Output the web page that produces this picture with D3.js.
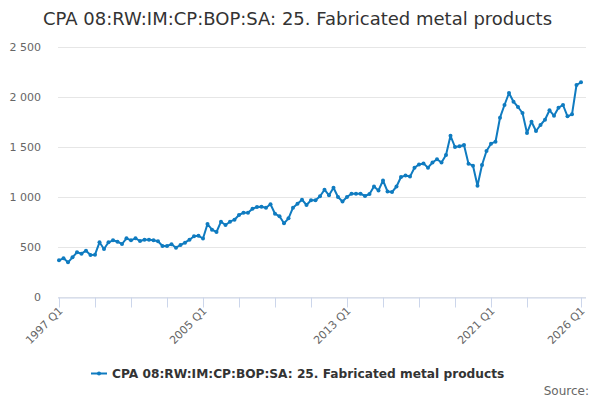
<!DOCTYPE html>
<html>
<head>
<meta charset="utf-8">
<script src="https://cdn.jsdelivr.net/npm/d3@7/dist/d3.min.js"></script>
<style>
  html, body { margin: 0; padding: 0; background: #ffffff; }
  svg { display: block; font-family: "DejaVu Sans", sans-serif; }
</style>
</head>
<body>
<svg id="chart" width="600" height="400"></svg>
<script>
const title = "CPA 08:RW:IM:CP:BOP:SA: 25. Fabricated metal products";
const seriesName = "CPA 08:RW:IM:CP:BOP:SA: 25. Fabricated metal products";

const categories = [];
for (let y = 1997; y <= 2026; y++) {
  for (let q = 1; q <= 4; q++) {
    if (y === 2026 && q > 1) break;
    categories.push(y + " Q" + q);
  }
}

const values = [
  367, 387, 347, 397, 447, 433, 463, 420, 423, 547,
  480, 547, 567, 553, 530, 587, 567, 587, 560, 573,
  573, 567, 557, 510, 510, 527, 493, 520, 543, 573,
  607, 612, 585, 730, 673, 650, 753, 720, 753, 773,
  820, 843, 843, 883, 900, 903, 893, 927, 833, 807,
  737, 787, 893, 933, 973, 920, 967, 967, 1007, 1073,
  1017, 1093, 1000, 955, 1000, 1033, 1033, 1033, 1010, 1030,
  1105, 1066, 1165, 1056, 1049, 1105, 1200, 1214, 1204, 1293,
  1326, 1336, 1293, 1345, 1378, 1345, 1421, 1612, 1500, 1507,
  1520, 1333, 1313, 1113, 1320, 1460, 1533, 1553, 1793, 1920,
  2040, 1953, 1900, 1840, 1640, 1753, 1660, 1720, 1773, 1867,
  1813, 1893, 1920, 1807, 1827, 2120, 2147
];

const yTicks = [0, 500, 1000, 1500, 2000, 2500];
const xTickCats = ["1997 Q1","1999 Q1","2001 Q1","2003 Q1","2005 Q1","2007 Q1","2009 Q1","2011 Q1","2013 Q1","2015 Q1","2017 Q1","2019 Q1","2021 Q1","2023 Q1","2026 Q1"];
const xLabelCats = ["1997 Q1", "2005 Q1", "2013 Q1", "2021 Q1", "2026 Q1"];
const sourceText = "Source:";

const color = "#0f7bc0";
const svg = d3.select("#chart");

const x = d3.scalePoint().domain(categories).range([59, 581]);
const y = d3.scaleLinear().domain([0, 2500]).range([297, 47]);

const fmt = v => d3.format(",")(v).replace(/,/g, " ");

// title
svg.append("text")
  .attr("x", 297.5).attr("y", 25)
  .attr("text-anchor", "middle")
  .attr("font-size", 18)
  .attr("fill", "#333333")
  .text(title);

// gridlines + y labels
const yAxis = d3.axisLeft(y).tickValues(yTicks).tickSize(-(586 - 58)).tickFormat(d => fmt(d));
const gy = svg.append("g").attr("transform", "translate(58,0)").call(yAxis);
gy.select(".domain").remove();
gy.selectAll(".tick line").attr("stroke", "#e6e6e6").attr("stroke-width", 1);
gy.selectAll(".tick text").attr("fill", "#666666").attr("font-size", 11)
  .attr("font-family", "DejaVu Sans, sans-serif").attr("x", -17);

// x axis
const xAxis = d3.axisBottom(x).tickValues(xTickCats).tickSize(10).tickFormat(d => xLabelCats.includes(d) ? d : "");
const gx = svg.append("g").attr("transform", "translate(0,297.5)").call(xAxis);
gx.select(".domain").attr("stroke", "#ccd6eb").attr("d", "M58,0.5H586");
gx.selectAll(".tick line").attr("stroke", "#ccd6eb");
gx.selectAll(".tick text")
  .attr("fill", "#666666").attr("font-size", 11)
  .attr("font-family", "DejaVu Sans, sans-serif")
  .attr("text-anchor", "end")
  .attr("dy", null)
  .attr("transform", "translate(4,14) rotate(-45)")
  .attr("y", 0).attr("x", 0);

// line
const data = categories.map((c, i) => ({ c, v: values[i] }));
const line = d3.line().x(d => x(d.c)).y(d => y(d.v));
svg.append("path").datum(data)
  .attr("fill", "none").attr("stroke", color)
  .attr("stroke-width", 2).attr("stroke-linejoin", "round")
  .attr("d", line);
svg.append("g").selectAll("circle").data(data).join("circle")
  .attr("cx", d => x(d.c)).attr("cy", d => y(d.v)).attr("r", 2)
  .attr("fill", color);

// legend
const lg = svg.append("g");
lg.append("line").attr("x1", 91).attr("x2", 107).attr("y1", 373.5).attr("y2", 373.5)
  .attr("stroke", color).attr("stroke-width", 2);
lg.append("circle").attr("cx", 99).attr("cy", 373.5).attr("r", 2).attr("fill", color);
lg.append("text").attr("x", 112).attr("y", 378)
  .attr("font-size", 12.2).attr("font-weight", "bold").attr("fill", "#333333")
  .text(seriesName);

// source
svg.append("text").attr("x", 589).attr("y", 395).attr("text-anchor", "end")
  .attr("font-size", 12).attr("fill", "#666666").text(sourceText);
</script>
</body>
</html>
